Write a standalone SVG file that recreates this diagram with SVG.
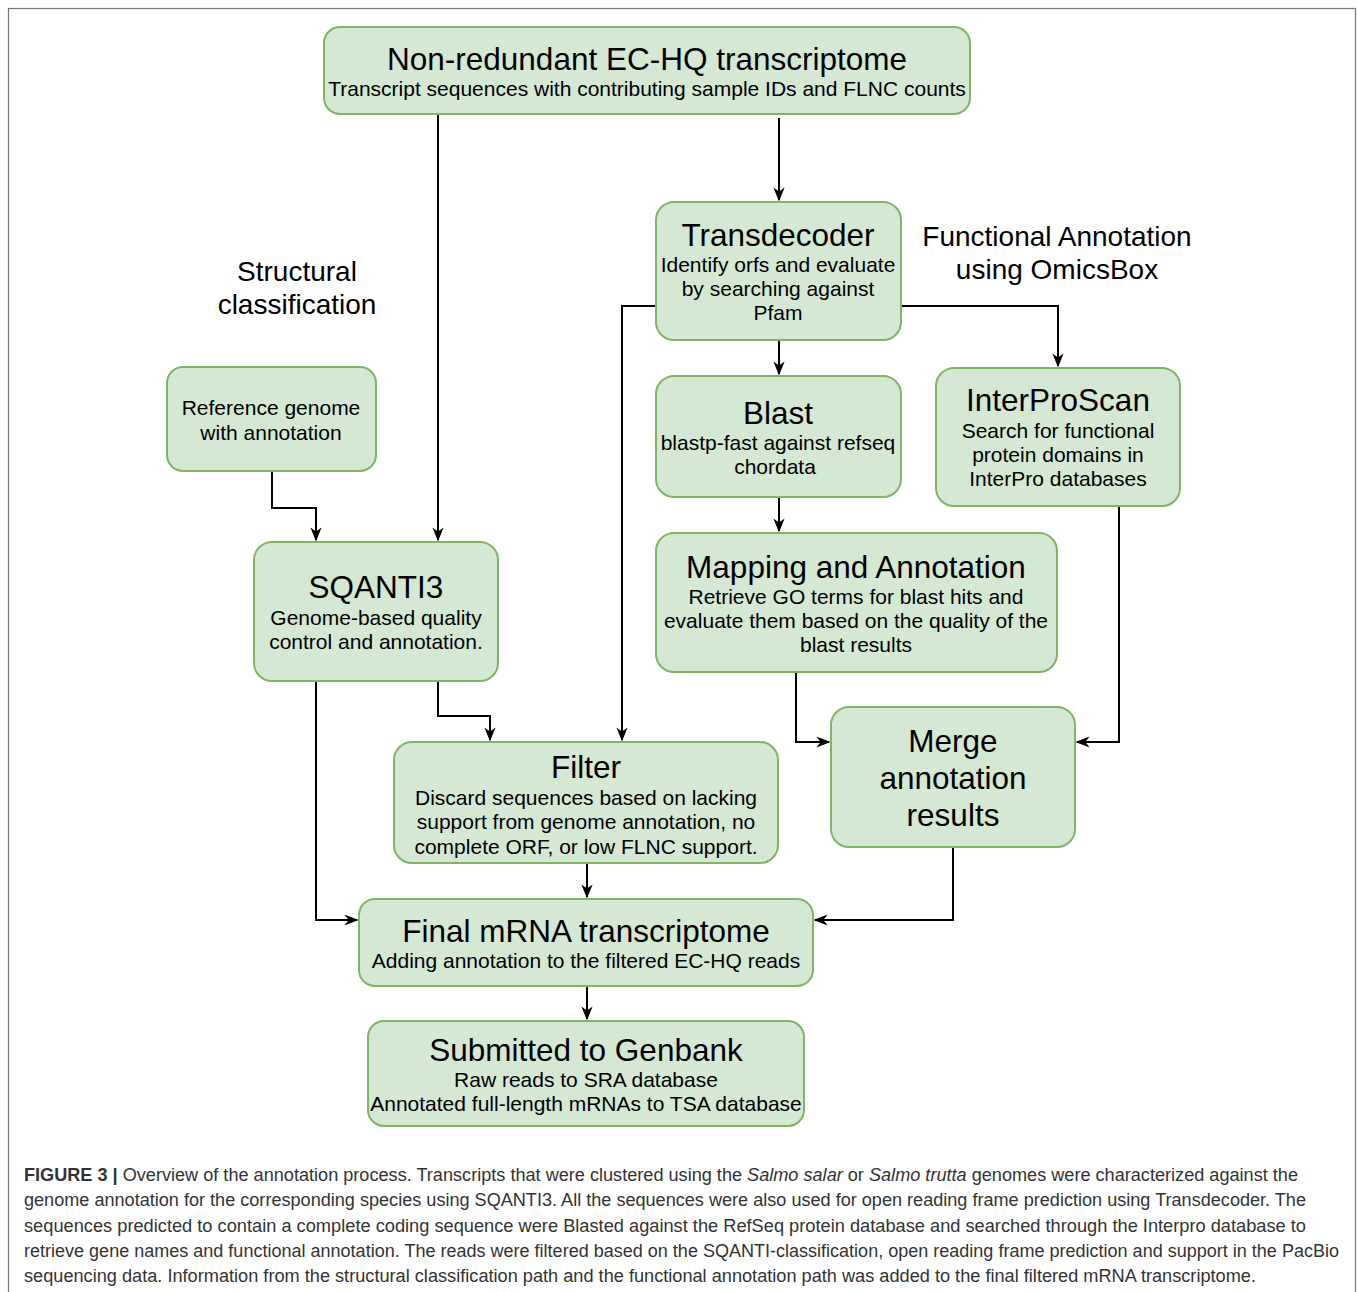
<svg xmlns="http://www.w3.org/2000/svg" width="1358" height="1292" viewBox="0 0 1358 1292">
<style>
.box{fill:#d5e8d4;stroke:#82b366;stroke-width:2}
text{font-family:"Liberation Sans",Arial,sans-serif;fill:#000;text-anchor:middle}
.t{font-size:31.5px}
.s{font-size:21px}
.lbl{font-size:28px}
.cap{font-size:17.5px;text-anchor:start;fill:#333}
.con path{fill:none;stroke:#000;stroke-width:2}
</style>
<defs>
<marker id="ar" viewBox="0 0 10 10" refX="9" refY="5" markerWidth="14" markerHeight="14" orient="auto" markerUnits="userSpaceOnUse">
<path d="M0,1 L10,5 L0,9 L3,5 z" fill="#000" stroke="none"/>
</marker>
</defs>
<rect x="8.5" y="8.5" width="1347" height="1300" fill="#fff" stroke="#777" stroke-width="1.2"/>

<g class="con">
<path d="M438,114 V540" marker-end="url(#ar)"/>
<path d="M779,118 V200" marker-end="url(#ar)"/>
<path d="M656,306 H622 V740" marker-end="url(#ar)"/>
<path d="M901,306 H1058 V366" marker-end="url(#ar)"/>
<path d="M779,340 V374" marker-end="url(#ar)"/>
<path d="M779,497 V531" marker-end="url(#ar)"/>
<path d="M272,471 V508 H316 V540" marker-end="url(#ar)"/>
<path d="M438,681 V716 H490 V740" marker-end="url(#ar)"/>
<path d="M316,681 V920 H357" marker-end="url(#ar)"/>
<path d="M796,672 V742 H829" marker-end="url(#ar)"/>
<path d="M1119,506 V742 H1077" marker-end="url(#ar)"/>
<path d="M953,847 V920 H815" marker-end="url(#ar)"/>
<path d="M587,863 V897" marker-end="url(#ar)"/>
<path d="M587,986 V1019" marker-end="url(#ar)"/>
</g>

<g id="top">
<rect class="box" x="324" y="27" width="646" height="87" rx="16"/>
<text class="t" x="647" y="70">Non-redundant EC-HQ transcriptome</text>
<text class="s" x="647" y="96">Transcript sequences with contributing sample IDs and FLNC counts</text>
</g>

<g id="transdecoder">
<rect class="box" x="656" y="202" width="245" height="138" rx="18"/>
<text class="t" x="778" y="246">Transdecoder</text>
<text class="s" x="778" y="272">Identify orfs and evaluate</text>
<text class="s" x="778" y="296">by searching against</text>
<text class="s" x="778" y="320">Pfam</text>
</g>

<g id="blast">
<rect class="box" x="656" y="376" width="245" height="121" rx="18"/>
<text class="t" x="778" y="424">Blast</text>
<text class="s" x="778" y="450">blastp-fast against refseq</text>
<text class="s" x="775" y="474">chordata</text>
</g>

<g id="interproscan">
<rect class="box" x="936" y="368" width="244" height="138" rx="18"/>
<text class="t" x="1058" y="411">InterProScan</text>
<text class="s" x="1058" y="438">Search for functional</text>
<text class="s" x="1058" y="462">protein domains in</text>
<text class="s" x="1058" y="486">InterPro databases</text>
</g>

<g id="mapping">
<rect class="box" x="656" y="533" width="401" height="139" rx="18"/>
<text class="t" x="856" y="578">Mapping and Annotation</text>
<text class="s" x="856" y="604">Retrieve GO terms for blast hits and</text>
<text class="s" x="856" y="628">evaluate them based on the quality of the</text>
<text class="s" x="856" y="652">blast results</text>
</g>

<g id="reference">
<rect class="box" x="167" y="367" width="209" height="104" rx="16"/>
<text class="s" x="271" y="415">Reference genome</text>
<text class="s" x="271" y="440">with annotation</text>
</g>

<g id="sqanti">
<rect class="box" x="254" y="542" width="244" height="139" rx="18"/>
<text class="t" x="376" y="598">SQANTI3</text>
<text class="s" x="376" y="625">Genome-based quality</text>
<text class="s" x="376" y="649">control and annotation.</text>
</g>

<g id="filter">
<rect class="box" x="394" y="742" width="384" height="121" rx="18"/>
<text class="t" x="586" y="778">Filter</text>
<text class="s" x="586" y="805">Discard sequences based on lacking</text>
<text class="s" x="586" y="829">support from genome annotation, no</text>
<text class="s" x="586" y="854">complete ORF, or low FLNC support.</text>
</g>

<g id="merge">
<rect class="box" x="831" y="707" width="244" height="140" rx="18"/>
<text class="t" x="953" y="752">Merge</text>
<text class="t" x="953" y="789">annotation</text>
<text class="t" x="953" y="826">results</text>
</g>

<g id="final">
<rect class="box" x="359" y="899" width="454" height="87" rx="16"/>
<text class="t" x="586" y="942">Final mRNA transcriptome</text>
<text class="s" x="586" y="968">Adding annotation to the filtered EC-HQ reads</text>
</g>

<g id="genbank">
<rect class="box" x="368" y="1021" width="436" height="105" rx="16"/>
<text class="t" x="586" y="1061">Submitted to Genbank</text>
<text class="s" x="586" y="1087">Raw reads to SRA database</text>
<text class="s" x="586" y="1111">Annotated full-length mRNAs to TSA database</text>
</g>

<g id="labels">
<text class="lbl" x="297" y="281">Structural</text>
<text class="lbl" x="297" y="314">classification</text>
<text class="lbl" x="1057" y="246">Functional Annotation</text>
<text class="lbl" x="1057" y="279">using OmicsBox</text>
</g>

<g id="caption">
<text class="cap" x="24" y="1181" textLength="1274" lengthAdjust="spacingAndGlyphs"><tspan font-weight="bold">FIGURE 3 |</tspan> Overview of the annotation process. Transcripts that were clustered using the <tspan font-style="italic">Salmo salar</tspan> or <tspan font-style="italic">Salmo trutta</tspan> genomes were characterized against the</text>
<text class="cap" x="24" y="1206" textLength="1282" lengthAdjust="spacingAndGlyphs">genome annotation for the corresponding species using SQANTI3. All the sequences were also used for open reading frame prediction using Transdecoder. The</text>
<text class="cap" x="24" y="1232" textLength="1282" lengthAdjust="spacingAndGlyphs">sequences predicted to contain a complete coding sequence were Blasted against the RefSeq protein database and searched through the Interpro database to</text>
<text class="cap" x="24" y="1257" textLength="1315" lengthAdjust="spacingAndGlyphs">retrieve gene names and functional annotation. The reads were filtered based on the SQANTI-classification, open reading frame prediction and support in the PacBio</text>
<text class="cap" x="24" y="1282" textLength="1232" lengthAdjust="spacingAndGlyphs">sequencing data. Information from the structural classification path and the functional annotation path was added to the final filtered mRNA transcriptome.</text>
</g>
</svg>
